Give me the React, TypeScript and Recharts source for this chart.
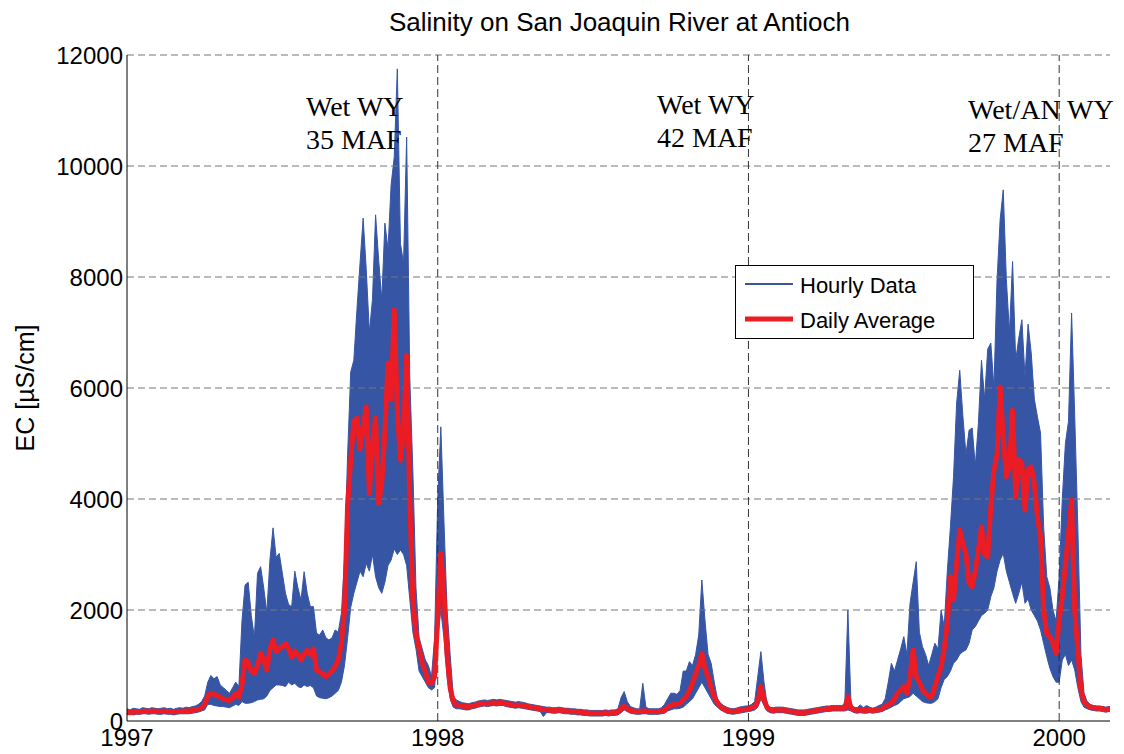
import {
  ComposedChart,
  Area,
  Line,
  XAxis,
  YAxis,
  ReferenceLine,
} from "recharts";

// samples every 0.01 year starting at 1997.00
const START_YEAR = 1997;
const STEP = 0.01;

const yearTicks = [1997, 1998, 1999, 2000];
const ecTicks = [0, 2000, 4000, 6000, 8000, 10000, 12000];

// daily average EC (uS/cm)
const dailyAverage = [
  160, 150, 160, 170, 160, 170, 180, 170, 180, 180,
  170, 170, 180, 170, 170, 160, 170, 170, 180, 180,
  180, 190, 200, 210, 240, 300, 450, 500, 480, 460,
  430, 400, 380, 370, 420, 500, 430, 650, 1100, 1050,
  900, 860, 1000, 1220, 1100, 920, 1300, 1460, 1250, 1300,
  1340, 1400, 1300, 1150, 1260, 1200, 1100, 1200, 1270, 1200,
  1300, 920, 880, 850, 800, 850, 900, 980, 1100, 1400,
  2000, 3900, 4700, 5400, 5460, 4900, 5300, 5660, 4100, 5000,
  5460, 3920, 4300, 5200, 6450, 5800, 7410, 5600, 4700, 5200,
  6590, 3980, 2180, 1580, 1300, 1050, 900, 700, 680, 800,
  1870, 3020, 2300, 1200, 600, 350, 290, 280, 270, 260,
  250, 270, 280, 300, 310, 320, 310, 320, 330, 320,
  330, 330, 310, 300, 290, 280, 290, 280, 270, 260,
  250, 240, 230, 220, 210, 200, 200, 190, 190, 200,
  190, 180, 180, 170, 170, 160, 160, 150, 150, 140,
  140, 140, 140, 140, 150, 140, 150, 150, 160, 220,
  270, 220, 190, 180, 170, 170, 180, 180, 170, 170,
  170, 170, 180, 190, 250, 280, 300, 300, 320, 380,
  440, 550, 680, 850, 1000, 1220, 950, 800, 600, 440,
  330, 260, 220, 190, 180, 170, 180, 190, 200, 210,
  220, 240, 260, 350, 620, 400, 240, 200, 190, 200,
  200, 200, 190, 180, 170, 160, 150, 150, 150, 160,
  170, 180, 190, 200, 210, 220, 220, 230, 230, 230,
  230, 230, 440, 230, 200, 190, 200, 190, 190, 200,
  190, 200, 200, 220, 260, 290, 320, 400, 500, 560,
  620, 500, 800, 1280, 800, 700, 560, 500, 440, 440,
  620, 800, 980, 1300, 1760, 2600, 2180, 2840, 3440, 3200,
  3020, 2480, 2420, 2700, 3080, 3500, 3000, 2960, 3860, 4520,
  4800, 6020, 5120, 4400, 4600, 5600, 4040, 4700, 4650, 3800,
  4520, 4580, 4280, 3680, 3320, 2000, 1580, 1520, 1400, 1220,
  1820, 2240, 2800, 3380, 3980, 2000, 1280, 560, 350, 290,
  250, 240, 230, 230, 220, 200, 220, 210,
];

// hourly data envelope (max / min within each sample)
const hourlyHigh = [
  220, 200, 230, 220, 210, 240, 230, 220, 240, 230,
  220, 230, 240, 220, 230, 210, 230, 240, 230, 250,
  240, 260, 270, 300, 350, 450, 700, 820, 760, 800,
  650, 600, 550, 500, 600, 700, 620, 1800, 2450, 2500,
  1900, 1500, 2660, 2780, 2400, 1950, 2900, 3480, 2950, 3020,
  2660, 2300, 2100, 2060, 2700, 2400, 2180, 2690, 2300, 2060,
  2060, 1580, 1550, 1640, 1500, 1460, 1500, 1640, 1600, 1940,
  2900, 4800, 6290, 6500, 7410, 8250, 9060, 8130, 7000, 7600,
  9120, 8300, 7590, 8970, 8500, 9660, 10160, 11750, 8600, 8250,
  10520, 6200, 4500, 2400, 1500, 1300, 1100, 1000, 800, 1500,
  4000, 5300, 3600, 2000, 1200, 450, 380, 350, 330, 320,
  310, 330, 340, 360, 370, 380, 370, 380, 390, 380,
  390, 380, 370, 360, 350, 340, 350, 340, 330, 310,
  300, 290, 280, 270, 260, 250, 250, 240, 240, 250,
  240, 230, 230, 220, 220, 210, 210, 200, 200, 190,
  190, 190, 190, 190, 200, 190, 200, 200, 220, 420,
  530, 350, 260, 240, 220, 220, 680, 250, 220, 220,
  220, 220, 240, 300, 400, 500, 500, 480, 550, 900,
  900, 1070, 1000, 1200, 1550, 2540, 1820, 1200, 1040, 700,
  400, 320, 280, 250, 230, 220, 230, 250, 260, 270,
  270, 300, 350, 800, 1250, 700, 300, 250, 240, 250,
  250, 250, 240, 230, 220, 210, 200, 200, 200, 210,
  220, 230, 240, 250, 260, 270, 270, 280, 280, 280,
  280, 300, 2000, 300, 250, 240, 290, 240, 280, 250,
  230, 250, 280, 300, 400, 700, 1040, 900, 1100, 1300,
  1520, 1200, 2120, 2500, 2870, 1600, 1340, 1200, 1000, 1200,
  1400, 1300, 2000, 1700, 2700, 3500, 4400, 5730, 6320, 5500,
  4800, 5240, 5280, 4600, 5360, 6500, 5800, 6700, 6810, 6000,
  7950, 9030, 9570, 7950, 7000, 8280, 6500, 6900, 7230, 6200,
  7150, 6630, 5800, 5480, 5190, 3500, 2600, 2400, 2000, 1800,
  2600, 4000, 5000, 5400, 7350, 5500, 3500, 1200, 500, 350,
  300, 280, 270, 270, 260, 250, 260, 250,
];

const hourlyLow = [
  110, 120, 110, 120, 120, 130, 130, 120, 130, 130,
  120, 120, 130, 120, 120, 110, 120, 130, 130, 130,
  130, 140, 150, 160, 180, 200, 300, 300, 280, 270,
  260, 260, 250, 240, 270, 300, 280, 350, 320, 320,
  330, 350, 380, 390, 400, 450, 550, 600, 650, 650,
  640, 620, 700, 650, 680, 620, 600, 650, 620, 640,
  600, 450, 420, 410, 400, 420, 450, 500, 550, 700,
  1000, 1500, 2050, 2300, 2500, 2700, 2600, 2840, 2700, 3000,
  2600, 2400, 2300, 2500, 2800, 2900, 3100, 3000, 3080, 3000,
  2800, 2200, 1600, 1300, 900, 800, 700, 600, 560, 600,
  1500, 2000, 1500, 800, 400, 250, 220, 220, 210, 200,
  200, 220, 230, 250, 260, 270, 260, 270, 280, 270,
  280, 280, 260, 250, 240, 230, 240, 230, 220, 210,
  200, 190, 180, 170, 80, 150, 150, 140, 140, 150,
  140, 130, 130, 120, 120, 110, 110, 100, 100, 90,
  90, 90, 90, 90, 100, 90, 100, 100, 110, 150,
  200, 170, 140, 130, 120, 120, 130, 130, 120, 120,
  120, 120, 130, 140, 180, 200, 220, 220, 230, 250,
  300, 350, 400, 500, 600, 700, 600, 500, 400, 300,
  250, 200, 170, 140, 130, 120, 130, 140, 150, 160,
  170, 180, 200, 250, 400, 280, 180, 150, 140, 150,
  150, 150, 140, 130, 120, 110, 100, 100, 100, 110,
  120, 130, 140, 150, 160, 170, 170, 180, 180, 180,
  180, 180, 200, 180, 150, 140, 150, 140, 140, 150,
  140, 150, 160, 170, 200, 220, 250, 280, 300, 350,
  400, 420, 440, 500, 450, 400, 350, 330, 320, 320,
  350, 400, 600, 750, 800, 900, 1040, 1100, 1200, 1250,
  1280, 1400, 1640, 1700, 1800, 1900, 1940, 2000, 2240, 2400,
  2700, 2900, 3020, 2700, 2500, 2300, 2120, 2300, 2500, 2120,
  2200, 2000, 1900, 1800, 1640, 1400, 1160, 950, 800, 700,
  700, 1100, 1200, 1000, 1100, 920, 600, 350, 250, 220,
  200, 190, 180, 180, 170, 160, 170, 160,
];

const annotations = [
  { lines: ["Wet WY", "35 MAF"], left: 298, top: 82 },
  { lines: ["Wet WY", "42 MAF"], left: 649, top: 80 },
  { lines: ["Wet/AN WY", "27 MAF"], left: 960, top: 85 },
];

const BLUE = "#3655a5";
const RED = "#ec1c24";
const FONT = "Arial, 'Liberation Sans', Helvetica, sans-serif";

const data = dailyAverage.map((d, i) => ({
  t: Math.round((START_YEAR + i * STEP) * 100) / 100,
  daily: d,
  hourly: [hourlyLow[i], hourlyHigh[i]],
}));

export default function App() {
  return (
    <div
      style={{
        position: "relative",
        width: 1104,
        height: 746,
        marginBottom: -8,
        fontFamily: FONT,
      }}
    >
      <div
        style={{
          position: "absolute",
          left: 119,
          width: 985,
          top: -1,
          lineHeight: "30px",
          fontSize: 26,
          textAlign: "center",
          color: "#000",
        }}
      >
        Salinity on San Joaquin River at Antioch
      </div>
      <div
        style={{
          position: "absolute",
          left: -83,
          top: 366,
          width: 200,
          height: 28,
          lineHeight: "28px",
          fontSize: 25,
          textAlign: "center",
          transform: "rotate(-90deg)",
          color: "#000",
        }}
      >
        EC [µS/cm]
      </div>
      <ComposedChart
        width={1102}
        height={746}
        data={data}
        margin={{ top: 47, right: -2, bottom: 0, left: 0 }}
        style={{ overflow: "hidden" }}
      >
        {ecTicks.slice(1).map((v) => (
          <ReferenceLine key={"h" + v} y={v} stroke="#777" strokeDasharray="7 4" />
        ))}
        {yearTicks.slice(1).map((y) => (
          <ReferenceLine key={"v" + y} x={y} stroke="#333" strokeDasharray="8 4" />
        ))}
        <XAxis
          type="number"
          dataKey="t"
          domain={[1997, 2000.17]}
          ticks={yearTicks}
          height={33}
          tickSize={0}
          tickMargin={8}
          tickLine={false}
          axisLine={{ stroke: "#000" }}
          tick={{ fill: "#000", fontSize: 24, fontFamily: FONT }}
        />
        <YAxis
          domain={[0, 12000]}
          ticks={ecTicks}
          width={119}
          tickSize={0}
          tickMargin={4}
          tickLine={false}
          axisLine={{ stroke: "#000" }}
          tick={{ fill: "#000", fontSize: 24, fontFamily: FONT }}
        />
        <Area
          type="linear"
          dataKey="hourly"
          name="Hourly Data"
          stroke={BLUE}
          strokeWidth={1}
          fill={BLUE}
          fillOpacity={1}
          dot={false}
          activeDot={false}
          isAnimationActive={false}
        />
        <Line
          type="linear"
          dataKey="daily"
          name="Daily Average"
          stroke={RED}
          strokeWidth={5}
          strokeLinejoin="round"
          dot={false}
          activeDot={false}
          isAnimationActive={false}
        />
      </ComposedChart>
      <div
        style={{
          position: "absolute",
          left: 727,
          top: 257,
          width: 237,
          height: 72,
          border: "1px solid #000",
          background: "#fff",
        }}
      >
        <svg width={237} height={72} style={{ position: "absolute", left: 0, top: 0 }}>
          <line x1={9} x2={57} y1={18} y2={18} stroke={BLUE} strokeWidth={2} />
          <line x1={9} x2={57} y1={53} y2={53} stroke={RED} strokeWidth={5} />
          <text x={64} y={27} fontSize={22} fontFamily={FONT} fill="#000">
            Hourly Data
          </text>
          <text x={64} y={62} fontSize={22} fontFamily={FONT} fill="#000">
            Daily Average
          </text>
        </svg>
      </div>
      {annotations.map((a) => (
        <div
          key={a.lines[0] + a.left}
          style={{
            position: "absolute",
            left: a.left,
            top: a.top,
            fontFamily: "'Times New Roman', 'Liberation Serif', serif",
            fontSize: 28,
            lineHeight: "33px",
            color: "#000",
            whiteSpace: "nowrap",
          }}
        >
          {a.lines.map((l) => (
            <div key={l}>{l}</div>
          ))}
        </div>
      ))}
    </div>
  );
}
